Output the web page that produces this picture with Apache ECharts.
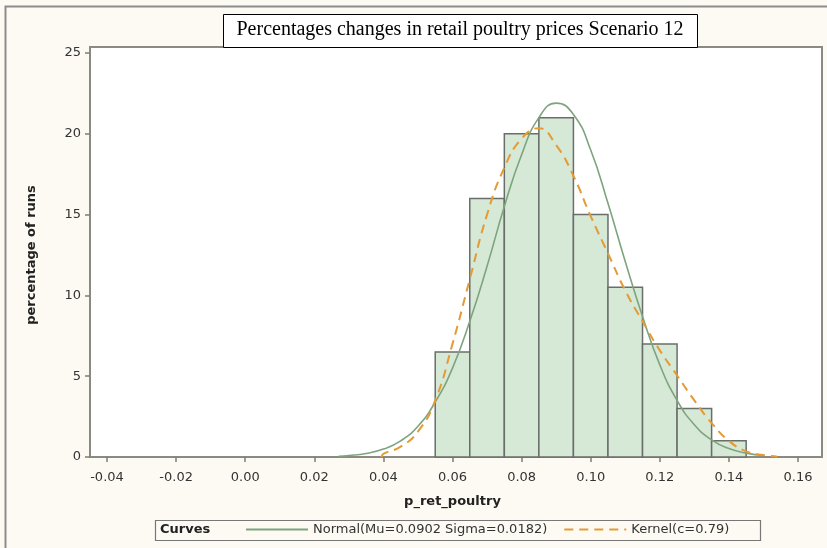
<!DOCTYPE html>
<html>
<head>
<meta charset="utf-8">
<script src="https://cdn.jsdelivr.net/npm/echarts@6/dist/echarts.min.js"></script>
<style>
html,body{margin:0;padding:0;background:#fcfaf3;}
#chart{width:827px;height:548px;}
</style>
</head>
<body>
<div id="chart"></div>
<script>
// ---- data ----
const titleText = 'Percentages changes in retail poultry prices Scenario 12';
const xName = 'p_ret_poultry';
const yName = 'percentage of runs';
const binStarts = [0.055, 0.065, 0.075, 0.085, 0.095, 0.105, 0.115, 0.125, 0.135];
const binEnds   = [0.065, 0.075, 0.085, 0.095, 0.105, 0.115, 0.125, 0.135, 0.145];
const binPercents = [6.5, 16, 20, 21, 15, 10.5, 7, 3, 1];
const normalX = [0.027,0.030,0.035,0.040,0.045,0.050,0.055,0.060,0.065,0.070,0.075,0.080,0.085,0.090,0.095,0.100,0.105,0.110,0.115,0.120,0.125,0.130,0.135,0.140,0.145,0.150];
const normalY = [0.05,0.09,0.22,0.49,1.0,1.9,3.4,5.5,8.4,11.8,15.5,18.7,21.0,21.9,21.2,19.0,15.7,12.1,8.7,5.7,3.5,2.0,1.06,0.52,0.24,0.10];
const kernelX = [0.0395,0.040,0.045,0.050,0.055,0.060,0.065,0.070,0.075,0.080,0.085,0.090,0.095,0.100,0.105,0.110,0.115,0.120,0.125,0.130,0.135,0.140,0.145,0.150,0.154];
const kernelY = [0.0,0.19,0.64,1.57,3.5,7.0,11.0,15.0,17.9,19.7,20.35,19.3,17.4,14.9,12.6,10.3,8.4,6.6,5.05,3.5,2.1,1.0,0.35,0.12,0.02];
const xTickMin = -0.04, xTickMax = 0.16, xTickStep = 0.02;
const yTickMin = 0, yTickMax = 25, yTickStep = 5;
const normalLabel = 'Normal(Mu=0.0902 Sigma=0.0182)';
const kernelLabel = 'Kernel(c=0.79)';
const legendTitle = 'Curves';

// ---- build ----
const hist = binStarts.map((s, i) => [s, binEnds[i], binPercents[i]]);
const normalData = normalX.map((x, i) => [x, normalY[i]]);
const kernelData = kernelX.map((x, i) => [x, kernelY[i]]);

const FONT = 'DejaVu Sans';
const tickColor = '#7d7d75';
const labelColor = '#333333';

const chart = echarts.init(document.getElementById('chart'), null, {renderer: 'canvas'});
chart.setOption({
  backgroundColor: '#fcfaf3',
  animation: false,
  grid: [
    {left: 90, top: 47, width: 732, height: 410, show: true, backgroundColor: '#ffffff', borderColor: '#8a8a82', borderWidth: 2, containLabel: false},
    {left: 107, top: 53, width: 691, height: 404, containLabel: false},
    {left: 90, top: 53, width: 732, height: 404, containLabel: false}
  ],
  xAxis: [
    {gridIndex: 0, type: 'value', min: 0, max: 1, show: false},
    {gridIndex: 1, type: 'value', min: xTickMin, max: xTickMax, interval: xTickStep,
     axisLine: {show: false},
     axisTick: {show: true, inside: false, length: 5, lineStyle: {color: tickColor, width: 1.5}},
     axisLabel: {margin: 14, color: labelColor, fontFamily: FONT, fontSize: 13, formatter: v => v.toFixed(2)},
     splitLine: {show: false},
     name: xName, nameLocation: 'middle', nameGap: 38,
     nameTextStyle: {fontFamily: FONT, fontWeight: 'bold', fontSize: 13, color: '#222'}},
    {gridIndex: 2, type: 'value', min: 0, max: 1, show: false}
  ],
  yAxis: [
    {gridIndex: 0, type: 'value', min: 0, max: 1, show: false},
    {gridIndex: 1, type: 'value', min: yTickMin, max: yTickMax, show: false},
    {gridIndex: 2, type: 'value', min: yTickMin, max: yTickMax, interval: yTickStep,
     axisLine: {show: false},
     axisTick: {show: true, inside: false, length: 5, lineStyle: {color: tickColor, width: 1.5}},
     axisLabel: {margin: 9, color: labelColor, fontFamily: FONT, fontSize: 13},
     splitLine: {show: false},
     name: yName, nameLocation: 'middle', nameGap: 52,
     nameTextStyle: {fontFamily: FONT, fontWeight: 'bold', fontSize: 13, color: '#222'}}
  ],
  legend: {
    left: 240, top: 518,
    itemWidth: 62, itemHeight: 12, itemGap: 16,
    itemStyle: {opacity: 0, borderWidth: 0},
    textStyle: {fontFamily: FONT, fontSize: 13, color: labelColor},
    data: [normalLabel, kernelLabel]
  },
  graphic: [
    {type: 'rect', left: 3, top: 4, z: -10, silent: true,
     shape: {width: 900, height: 900}, style: {fill: 'none', stroke: '#8c8c8c', lineWidth: 2}},
    {type: 'rect', left: 223, top: 14, z: 10,
     shape: {width: 474, height: 33}, style: {fill: '#ffffff', stroke: '#000000', lineWidth: 1}},
    {type: 'text', x: 460, y: 30, z: 11,
     style: {text: titleText, font: '20px "Liberation Serif"', fill: '#000', textAlign: 'center', textVerticalAlign: 'middle'}},
    {type: 'rect', left: 153, top: 518, z: 0,
     shape: {width: 605, height: 20}, style: {fill: 'none', stroke: '#777', lineWidth: 1.2}},
    {type: 'text', x: 160, y: 530, z: 11,
     style: {text: legendTitle, font: 'bold 13px "DejaVu Sans"', fill: '#222', textVerticalAlign: 'middle'}}
  ],
  series: [
    {
      type: 'custom', name: 'hist', xAxisIndex: 1, yAxisIndex: 1,
      data: hist, encode: {x: [0, 1], y: 2},
      renderItem: function (params, api) {
        const p0 = api.coord([api.value(0), api.value(2)]);
        const p1 = api.coord([api.value(1), 0]);
        return {type: 'rect', shape: {x: p0[0], y: p0[1], width: p1[0] - p0[0], height: p1[1] - p0[1]},
          style: {fill: '#d6e8d6', stroke: '#6a6e6a', lineWidth: 1.5}};
      },
      z: 2
    },
    {
      type: 'line', name: normalLabel, xAxisIndex: 1, yAxisIndex: 1,
      data: normalData, smooth: true, symbol: 'none',
      lineStyle: {color: '#7ea47e', width: 1.6}, itemStyle: {color: '#7ea47e'}, z: 3
    },
    {
      type: 'line', name: kernelLabel, xAxisIndex: 1, yAxisIndex: 1,
      data: kernelData, smooth: true, symbol: 'none',
      lineStyle: {color: '#e39b35', width: 2, type: [9, 6]}, itemStyle: {color: '#e39b35'}, z: 4
    }
  ]
});
</script>
</body>
</html>
